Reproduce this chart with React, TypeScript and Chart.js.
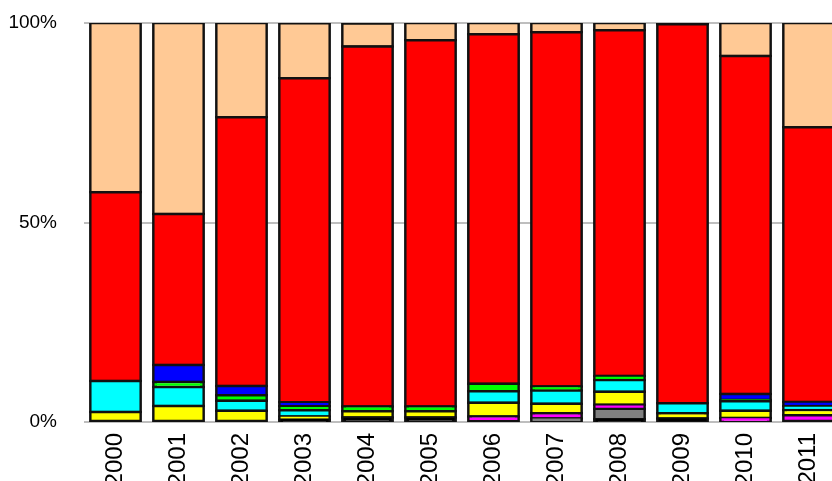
import React, { useEffect, useRef } from "react";
import { Chart, registerables } from "chart.js";

Chart.register(...registerables);

const years = ["2000", "2001", "2002", "2003", "2004", "2005", "2006", "2007", "2008", "2009", "2010", "2011"];
const blackShare = [0, 0, 0, 0.6, 1.1, 1.1, 0, 0, 0.7, 0.9, 0, 0];
const grayShare = [0, 0, 0, 0, 0, 0, 0, 0.9, 2.6, 0, 0, 0];
const magentaShare = [0, 0, 0, 0, 0, 0, 1.4, 1.3, 1.0, 0, 1.0, 1.7];
const yellowShare = [2.5, 4.0, 2.8, 0.75, 1.6, 1.6, 3.4, 2.4, 3.3, 1.3, 1.8, 1.3];
const cyanShare = [7.8, 4.8, 2.5, 1.6, 0, 0, 2.9, 3.3, 2.9, 2.5, 2.4, 1.0];
const greenShare = [0, 1.2, 1.4, 1.0, 1.2, 1.2, 1.9, 1.0, 1.0, 0, 0.3, 0];
const blueShare = [0, 4.3, 2.3, 1.0, 0, 0, 0, 0, 0, 0, 1.5, 1.0];
const redShare = [47.3, 37.8, 67.4, 81.2, 90.2, 91.8, 87.6, 88.8, 86.7, 95.0, 84.7, 68.9];
const peachShare = [42.4, 47.9, 23.6, 13.8, 5.8, 4.3, 2.8, 2.3, 1.8, 0.3, 8.3, 26.1];
const yTicks = [0, 50, 100];

const seriesList = [
  { label: "black", data: blackShare, color: "#000000" },
  { label: "gray", data: grayShare, color: "#808080" },
  { label: "magenta", data: magentaShare, color: "#FF00FF" },
  { label: "yellow", data: yellowShare, color: "#FFFF00" },
  { label: "cyan", data: cyanShare, color: "#00FFFF" },
  { label: "green", data: greenShare, color: "#00FF00" },
  { label: "blue", data: blueShare, color: "#0000FF" },
  { label: "red", data: redShare, color: "#FF0000" },
  { label: "peach", data: peachShare, color: "#FFC995" },
];

export default function App() {
  const ref = useRef<HTMLCanvasElement | null>(null);
  useEffect(() => {
    if (!ref.current) return;
    const chart = new Chart(ref.current, {
      type: "bar",
      data: {
        labels: years,
        datasets: seriesList.map((s) => ({
          label: s.label,
          data: s.data.map((v) => (v === 0 ? null : v)),
          backgroundColor: s.color,
          borderColor: "#111111",
          borderWidth: 2.5,
          borderSkipped: false,
          inflateAmount: 1.25,
          barPercentage: 0.8,
          categoryPercentage: 1,
        })),
      },
      options: {
        animation: false,
        responsive: false,
        devicePixelRatio: 1,
        layout: { padding: { top: 23, right: 10, left: 0, bottom: 0 } },
        plugins: { legend: { display: false }, tooltip: { enabled: false } },
        scales: {
          x: {
            stacked: true,
            grid: { display: false, drawTicks: false },
            border: { display: false },
            afterFit: (scale: any) => {
              scale.height = 78;
            },
            ticks: {
              minRotation: 90,
              maxRotation: 90,
              autoSkip: false,
              padding: 11,
              color: "#000",
              font: { family: "'Liberation Sans', Arial, sans-serif", size: 24 },
            },
          },
          y: {
            stacked: true,
            min: 0,
            max: 100,
            afterFit: (scale: any) => {
              scale.width = 84;
            },
            afterBuildTicks: (scale: any) => {
              scale.ticks = yTicks.map((v) => ({ value: v }));
            },
            grid: {
              color: "#BEBEBE",
              lineWidth: 2,
              drawTicks: true,
              tickLength: 27,
              tickColor: "rgba(0,0,0,0)",
            },
            border: { display: false },
            ticks: {
              padding: 0,
              color: "#000",
              font: { family: "'Liberation Sans', Arial, sans-serif", size: 19 },
              callback: (v: any) => v + "%",
            },
          },
        },
      },
    });
    return () => chart.destroy();
  }, []);
  return (
    <div
      style={{
        position: "fixed",
        left: 0,
        top: 0,
        width: 832,
        height: 481,
        overflow: "hidden",
        background: "#fff",
      }}
    >
      <canvas ref={ref} width={850} height={500} style={{ display: "block", width: 850, height: 500 }} />
    </div>
  );
}
